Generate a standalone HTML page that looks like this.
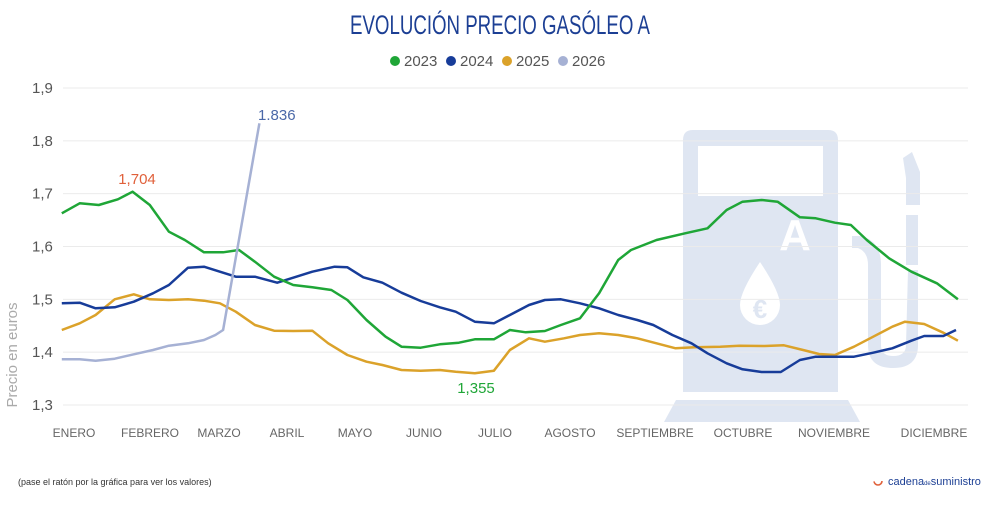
<!DOCTYPE html>
<html><head><meta charset="utf-8"><style>
body{margin:0;background:#fff;width:1000px;height:500px;overflow:hidden;font-family:"Liberation Sans",sans-serif}
</style></head><body>
<svg id="s" width="1000" height="500" xmlns="http://www.w3.org/2000/svg" font-family="Liberation Sans, sans-serif">
<text x="500" y="34" text-anchor="middle" font-family="Liberation Sans Narrow, Liberation Sans, sans-serif" font-size="27" fill="#1c3f94" textLength="300" lengthAdjust="spacingAndGlyphs">EVOLUCIÓN PRECIO GASÓLEO A</text>
<g font-size="15" fill="#555" font-family="Liberation Sans Narrow, Liberation Sans, sans-serif">
<circle cx="395" cy="61" r="5" fill="#1fa637"/><text x="404" y="66">2023</text>
<circle cx="451" cy="61" r="5" fill="#173c99"/><text x="460" y="66">2024</text>
<circle cx="507" cy="61" r="5" fill="#dba22a"/><text x="516" y="66">2025</text>
<circle cx="563" cy="61" r="5" fill="#a6b1d4"/><text x="572" y="66">2026</text>
</g>
<!-- pump watermark -->
<g fill="#dfe6f2">
<path d="M683 140 Q683 130 693 130 L828 130 Q838 130 838 140 L838 392 L683 392 Z"/>
<path d="M676 400 L848 400 L860 422 L664 422 Z"/>
<rect x="906" y="215" width="12" height="50"/>
<path d="M903 158 L912 152 L920 172 L920 205 L906 205 L906 178 Z"/>
<path d="M908 270 L918 270 L918 345 Q918 368 893 368 Q868 368 868 345 L868 265 Q868 252 858 248 L852 248 L852 236 L860 236 Q881 240 881 265 L881 345 Q881 356 893 356 Q906 356 906 345 Z"/>
</g>
<rect x="698" y="146" width="125" height="50" fill="#fff"/>
<text x="795" y="250" font-size="44" font-weight="bold" fill="#fff" text-anchor="middle">A</text>
<path d="M760 262 Q740 292 740 305 A20 20 0 0 0 780 305 Q780 292 760 262 Z" fill="#fff"/>
<text x="760" y="318" font-size="26" font-weight="bold" fill="#dfe6f2" text-anchor="middle">€</text>
<g id="grid" stroke="#ebebeb" stroke-width="1"></g>
<g font-size="15" fill="#555" font-family="Liberation Sans Narrow, Liberation Sans, sans-serif" id="ylab"></g>
<text transform="translate(17,355) rotate(-90)" text-anchor="middle" font-size="15" fill="#aaa">Precio en euros</text>
<g font-size="12" fill="#666" text-anchor="middle">
<text x="74" y="437">ENERO</text><text x="150" y="437">FEBRERO</text><text x="219" y="437">MARZO</text><text x="287" y="437">ABRIL</text><text x="355" y="437">MAYO</text><text x="424" y="437">JUNIO</text><text x="495" y="437">JULIO</text><text x="570" y="437">AGOSTO</text><text x="655" y="437">SEPTIEMBRE</text><text x="743" y="437">OCTUBRE</text><text x="834" y="437">NOVIEMBRE</text><text x="934" y="437">DICIEMBRE</text>
</g>
<g id="lines" fill="none" stroke-width="2.5" stroke-linejoin="round"></g>
<text x="137" y="184" font-size="15" fill="#e0603a" text-anchor="middle">1,704</text>
<text x="476" y="393" font-size="15" fill="#1fa637" text-anchor="middle">1,355</text>
<text x="258" y="120" font-size="15" fill="#4a68a8">1.836</text>
<text x="18" y="485" font-size="9" fill="#333">(pase el ratón por la gráfica para ver los valores)</text>
<circle cx="878" cy="481" r="4" fill="none" stroke="#e0603a" stroke-width="1.6" stroke-dasharray="12 14"/>
<text x="888" y="485" font-size="11" fill="#1c3f94">cadena<tspan font-size="6">de</tspan>suministro</text>
</svg>
<script>
var NS="http://www.w3.org/2000/svg",g=document.getElementById('grid'),yl=document.getElementById('ylab');
["1,9","1,8","1,7","1,6","1,5","1,4","1,3"].forEach(function(t,i){var y=88+i*52.83;
var l=document.createElementNS(NS,'line');l.setAttribute('x1',63);l.setAttribute('x2',968);l.setAttribute('y1',y);l.setAttribute('y2',y);g.appendChild(l);
var tx=document.createElementNS(NS,'text');tx.setAttribute('x',32);tx.setAttribute('y',y+5);tx.textContent=t;yl.appendChild(tx);});
var S={
"#dba22a":[[97,990],[125,970],[150,945],[180,898],[210,883],[235,898],[265,900],[295,898],[320,902],[345,910],[370,935],[400,975],[430,992],[460,993],[490,992],[515,1030],[545,1065],[575,1085],[600,1095],[630,1110],[660,1112],[690,1110],[715,1115],[745,1120],[775,1112],[800,1050],[830,1015],[855,1025],[885,1015],[910,1005],[940,1000],[970,1005],[1000,1015],[1030,1030],[1060,1045],[1090,1042],[1130,1040],[1160,1037],[1200,1038],[1230,1036],[1260,1050],[1285,1062],[1310,1065],[1340,1040],[1370,1010],[1400,980],[1420,965],[1450,972],[1480,998],[1503,1022]],
"#173c99":[[97,910],[125,908],[150,925],[180,922],[210,905],[240,880],[265,855],[295,803],[320,800],[345,815],[370,830],[400,830],[435,848],[460,833],[490,815],[525,800],[545,802],[570,832],[600,848],[630,878],[660,903],[690,922],[715,935],[745,965],[775,970],[800,945],[830,915],[855,900],[880,898],[910,910],[940,925],[970,945],[1000,960],[1025,975],[1055,1005],[1085,1030],[1110,1060],[1140,1090],[1165,1108],[1195,1116],[1225,1116],[1255,1080],[1280,1070],[1310,1070],[1340,1070],[1370,1058],[1400,1045],[1430,1022],[1450,1008],[1480,1008],[1500,990]],
"#1fa637":[[97,640],[125,610],[155,615],[185,598],[208,575],[235,615],[265,695],[290,720],[320,757],[350,757],[375,750],[400,785],[430,830],[460,855],[490,862],[520,870],[545,900],[575,960],[605,1010],[630,1040],[660,1043],[690,1033],[720,1028],[745,1018],[775,1018],[800,990],[825,997],[855,993],[880,975],[910,955],[940,880],[970,780],[990,750],[1030,720],[1075,700],[1110,685],[1140,630],[1165,605],[1195,600],[1220,605],[1255,652],[1280,655],[1310,668],[1335,675],[1360,720],[1395,775],[1430,815],[1470,850],[1503,898]],
"#a6b1d4":[[97,1078],[125,1078],[150,1082],[180,1076],[210,1063],[240,1050],[265,1037],[295,1030],[320,1020],[338,1005],[350,990],[407,370]]};
var L=document.getElementById('lines');
for(var c in S){var p=document.createElementNS(NS,'polyline');p.setAttribute('stroke',c);
p.setAttribute('points',S[c].map(function(a){return (a[0]/1.569).toFixed(1)+','+(a[1]/3).toFixed(1)}).join(' '));L.appendChild(p);}
</script>
</body></html>
